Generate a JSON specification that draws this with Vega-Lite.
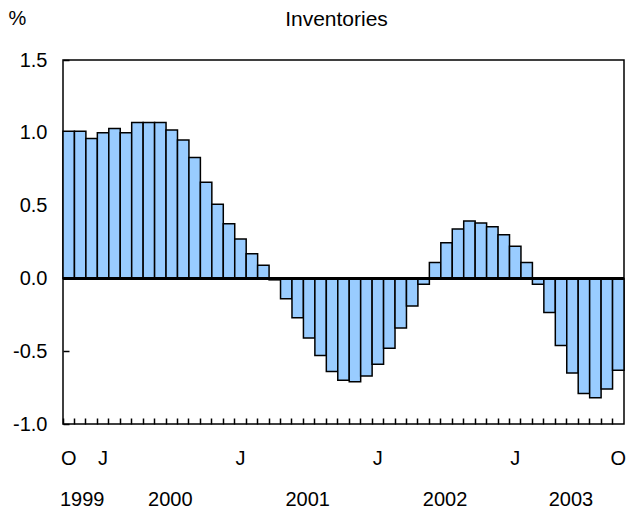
{
  "$schema": "https://vega.github.io/schema/vega-lite/v6.json",
  "width": 561,
  "height": 364,
  "autosize": {"type": "none"},
  "padding": {"left": 63, "top": 60, "right": 12, "bottom": 86},
  "background": "white",
  "config": {
    "font": "Liberation Sans",
    "view": {"stroke": "black", "strokeWidth": 1.5},
    "axis": {"labelFont": "Liberation Sans", "labelFontSize": 20, "labelColor": "black", "titleFont": "Liberation Sans", "grid": false}
  },
  "title": {"text": "Inventories", "fontSize": 21, "fontWeight": "normal", "font": "Liberation Sans", "color": "black", "anchor": "middle", "offset": 0, "dy": 22, "dx": -7},
  "data": {"values": [
    {"m": "1999-10", "v": 1.01}, {"m": "1999-11", "v": 1.01}, {"m": "1999-12", "v": 0.96},
    {"m": "2000-01", "v": 1.00}, {"m": "2000-02", "v": 1.03}, {"m": "2000-03", "v": 1.00},
    {"m": "2000-04", "v": 1.07}, {"m": "2000-05", "v": 1.07}, {"m": "2000-06", "v": 1.07},
    {"m": "2000-07", "v": 1.02}, {"m": "2000-08", "v": 0.95}, {"m": "2000-09", "v": 0.83},
    {"m": "2000-10", "v": 0.66}, {"m": "2000-11", "v": 0.51}, {"m": "2000-12", "v": 0.375},
    {"m": "2001-01", "v": 0.27}, {"m": "2001-02", "v": 0.17}, {"m": "2001-03", "v": 0.09},
    {"m": "2001-04", "v": -0.01}, {"m": "2001-05", "v": -0.14}, {"m": "2001-06", "v": -0.27},
    {"m": "2001-07", "v": -0.41}, {"m": "2001-08", "v": -0.53}, {"m": "2001-09", "v": -0.64},
    {"m": "2001-10", "v": -0.70}, {"m": "2001-11", "v": -0.71}, {"m": "2001-12", "v": -0.67},
    {"m": "2002-01", "v": -0.59}, {"m": "2002-02", "v": -0.48}, {"m": "2002-03", "v": -0.34},
    {"m": "2002-04", "v": -0.19}, {"m": "2002-05", "v": -0.04}, {"m": "2002-06", "v": 0.11},
    {"m": "2002-07", "v": 0.245}, {"m": "2002-08", "v": 0.34}, {"m": "2002-09", "v": 0.395},
    {"m": "2002-10", "v": 0.38}, {"m": "2002-11", "v": 0.355}, {"m": "2002-12", "v": 0.30},
    {"m": "2003-01", "v": 0.22}, {"m": "2003-02", "v": 0.11}, {"m": "2003-03", "v": -0.04},
    {"m": "2003-04", "v": -0.235}, {"m": "2003-05", "v": -0.46}, {"m": "2003-06", "v": -0.65},
    {"m": "2003-07", "v": -0.79}, {"m": "2003-08", "v": -0.82}, {"m": "2003-09", "v": -0.76},
    {"m": "2003-10", "v": -0.63}
  ]},
  "layer": [
    {
      "mark": {"type": "bar", "opacity": 0},
      "encoding": {
        "x": {"field": "m", "type": "ordinal", "sort": null,
          "scale": {"paddingInner": 0, "paddingOuter": 0},
          "axis": {"orient": "bottom", "offset": 0, "title": null, "domain": false, "ticks": false,
            "labelAngle": 0, "labelPadding": 65,
            "labelOffset": {"condition": {"test": "datum.value == '1999-11'", "value": 2}, "value": -1.5},
            "labelExpr": "datum.value == '1999-11' ? '1999' : datum.value == '2000-07' ? '2000' : datum.value == '2001-07' ? '2001' : datum.value == '2002-07' ? '2002' : datum.value == '2003-06' ? '2003' : ''"}},
        "y": {"field": "v", "type": "quantitative"}
      }
    },
    {
      "mark": {"type": "bar", "fill": "#99ccff", "stroke": "black", "strokeWidth": 1.5},
      "encoding": {
        "x": {"field": "m", "type": "ordinal", "sort": null,
          "scale": {"paddingInner": 0, "paddingOuter": 0},
          "axis": {"orient": "bottom", "title": null, "domain": false, "ticks": true, "tickColor": "black", "tickSize": -6, "tickWidth": 1.5,
            "bandPosition": 0, "labelAngle": 0, "labelPadding": 30, "labelOffset": 0,
            "labelExpr": "substring(datum.value, 5) == '01' ? 'J' : (datum.value == '1999-10' || datum.value == '2003-10') ? 'O' : ''"}},
        "y": {"field": "v", "type": "quantitative",
          "scale": {"domain": [-1, 1.5], "nice": false, "zero": false},
          "axis": {"values": [-1, -0.5, 0, 0.5, 1, 1.5], "format": ".1f", "labelExpr": "replace(datum.label, '\u2212', '-')", "domain": false, "tickColor": "black", "tickSize": -6, "tickWidth": 1.5,
            "labelPadding": 22, "title": "%", "titleAngle": 0, "titleAlign": "left", "titleBaseline": "middle", "titleX": -55, "titleY": -42, "titleFontSize": 20, "titleFontWeight": "normal", "titleColor": "black"}}
      }
    },
    {
      "mark": {"type": "rule", "color": "black", "strokeWidth": 2.5},
      "encoding": {"y": {"datum": 0}}
    }
  ],
  "resolve": {"axis": {"x": "independent"}}
}
